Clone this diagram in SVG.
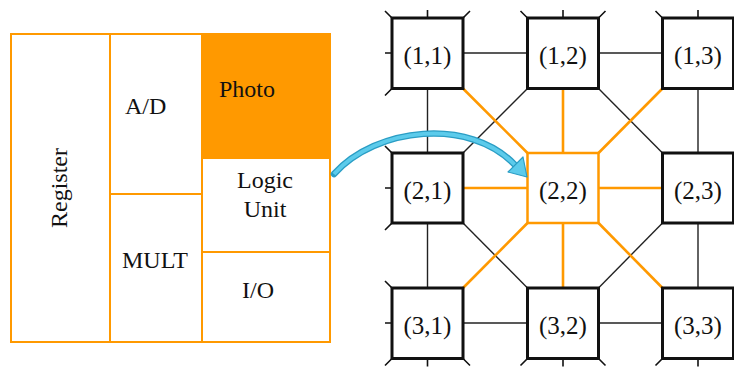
<svg xmlns="http://www.w3.org/2000/svg" width="734" height="367" viewBox="0 0 734 367">
  <style>
    .lbl { font-family: "Liberation Serif", "Times New Roman", serif; font-size: 24px; fill: #111; }
    .pe { font-size: 25px; }
    .mid { text-anchor: middle; }
    .cell { fill: #fff; stroke: #FF9900; stroke-width: 2; }
    .box { fill: #fff; stroke: #111; stroke-width: 3; }
    .box-hot { fill: #fff; stroke: #FF9900; stroke-width: 2.5; }
    .wire { stroke: #222; stroke-width: 1.4; fill: none; }
    .wire-hot { stroke: #FF9900; stroke-width: 2.6; fill: none; }
    .stub { stroke: #111; stroke-width: 1.6; fill: none; }
  </style>

  <rect width="734" height="367" fill="#fff"/>

  <!-- Chip floorplan -->
  <g id="floorplan">
    <g id="register">
      <rect class="cell" x="11" y="34" width="99" height="308"/>
      <text class="lbl mid" transform="translate(67,188) rotate(-90)">Register</text>
    </g>
    <g id="ad">
      <rect class="cell" x="110" y="34" width="92" height="160"/>
      <text class="lbl" x="125" y="114">A/D</text>
    </g>
    <g id="mult">
      <rect class="cell" x="110" y="194" width="92" height="148"/>
      <text class="lbl" x="122" y="268">MULT</text>
    </g>
    <g id="photo">
      <rect x="202" y="34" width="128" height="124" fill="#FF9900" stroke="#FF9900" stroke-width="2"/>
      <text class="lbl" x="219" y="97">Photo</text>
    </g>
    <g id="logic">
      <rect class="cell" x="202" y="158" width="128" height="94"/>
      <text class="lbl mid" x="265" y="188">Logic</text>
      <text class="lbl mid" x="265" y="217">Unit</text>
    </g>
    <g id="io">
      <rect class="cell" x="202" y="252" width="128" height="90"/>
      <text class="lbl" x="242" y="298">I/O</text>
    </g>
  </g>

  <!-- Mesh connectors -->
  <g id="connectors">
    <!-- horizontal links -->
    <line class="wire" x1="463" y1="53" x2="527.5" y2="53"/>
    <line class="wire" x1="598.5" y1="53" x2="662.5" y2="53"/>
    <line class="wire-hot" x1="463" y1="188" x2="527.5" y2="188"/>
    <line class="wire-hot" x1="598.5" y1="188" x2="662.5" y2="188"/>
    <line class="wire" x1="463" y1="323" x2="527.5" y2="323"/>
    <line class="wire" x1="598.5" y1="323" x2="662.5" y2="323"/>
    <!-- vertical links -->
    <line class="wire" x1="427.5" y1="88.5" x2="427.5" y2="153"/>
    <line class="wire" x1="427.5" y1="223" x2="427.5" y2="288"/>
    <line class="wire-hot" x1="563" y1="88.5" x2="563" y2="153"/>
    <line class="wire-hot" x1="563" y1="223" x2="563" y2="288"/>
    <line class="wire" x1="698" y1="88.5" x2="698" y2="153"/>
    <line class="wire" x1="698" y1="223" x2="698" y2="288"/>
    <!-- diagonal links -->
    <line class="wire" x1="527.5" y1="88.5" x2="463" y2="153"/>
    <line class="wire" x1="598.5" y1="88.5" x2="662.5" y2="153"/>
    <line class="wire" x1="463" y1="223" x2="527.5" y2="288"/>
    <line class="wire" x1="662.5" y1="223" x2="598.5" y2="288"/>
    <line class="wire-hot" x1="463" y1="88.5" x2="527.5" y2="153"/>
    <line class="wire-hot" x1="662.5" y1="88.5" x2="598.5" y2="153"/>
    <line class="wire-hot" x1="527.5" y1="223" x2="463" y2="288"/>
    <line class="wire-hot" x1="598.5" y1="223" x2="662.5" y2="288"/>
    <!-- open ends on the array border -->
    <path class="stub" d="M427.5,18 v-8 M563,18 v-8 M698,18 v-8
                          M392,18 l-7,-7 M463,18 l7,-7 M527.5,18 l-7,-7 M598.5,18 l7,-7 M662.5,18 l-7,-7
                          M392,53 h-7 M392,188 h-7 M392,323 h-7
                          M392,88.5 l-7,7 M392,153 l-7,-7 M392,223 l-7,7 M392,288 l-7,-7
                          M427.5,358.5 v8 M563,358.5 v8 M698,358.5 v8
                          M392,358.5 l-7,7 M463,358.5 l7,7 M527.5,358.5 l-7,7 M598.5,358.5 l7,7 M662.5,358.5 l-7,7"/>
  </g>

  <!-- Processing elements -->
  <g id="n11"><rect class="box" x="392" y="18" width="71" height="70.5"/><text class="lbl pe mid" x="427.5" y="63.5">(1,1)</text></g>
  <g id="n12"><rect class="box" x="527.5" y="18" width="71" height="70.5"/><text class="lbl pe mid" x="563" y="63.5">(1,2)</text></g>
  <g id="n13"><rect class="box" x="662.5" y="18" width="71" height="70.5"/><text class="lbl pe mid" x="698" y="63.5">(1,3)</text></g>
  <g id="n21"><rect class="box" x="392" y="153" width="71" height="70"/><text class="lbl pe mid" x="427.5" y="198.5">(2,1)</text></g>
  <g id="n22"><rect class="box-hot" x="527.5" y="153" width="71" height="70"/><text class="lbl pe mid" x="563" y="198.5">(2,2)</text></g>
  <g id="n23"><rect class="box" x="662.5" y="153" width="71" height="70"/><text class="lbl pe mid" x="698" y="198.5">(2,3)</text></g>
  <g id="n31"><rect class="box" x="392" y="288" width="71" height="70.5"/><text class="lbl pe mid" x="427.5" y="333.5">(3,1)</text></g>
  <g id="n32"><rect class="box" x="527.5" y="288" width="71" height="70.5"/><text class="lbl pe mid" x="563" y="333.5">(3,2)</text></g>
  <g id="n33"><rect class="box" x="662.5" y="288" width="71" height="70.5"/><text class="lbl pe mid" x="698" y="333.5">(3,3)</text></g>

  <!-- Mapping arrow -->
  <g id="map-arrow">
    <path d="M334,174 C376,127 470,117 515,165" fill="none" stroke="#2A9DC4" stroke-width="6.5" stroke-linecap="round"/>
    <path d="M334,174 C376,127 470,117 515,165" fill="none" stroke="#5CCBEB" stroke-width="4"/>
    <polygon points="527,177 508,172 523,157" fill="#5CCBEB" stroke="#2A9DC4" stroke-width="1.2" stroke-linejoin="round"/>
  </g>
</svg>
